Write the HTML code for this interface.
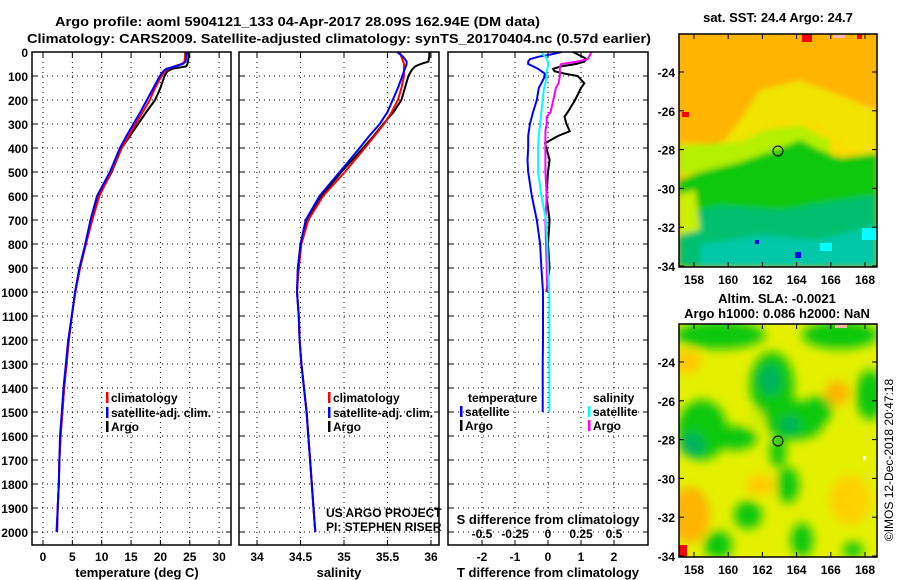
<!DOCTYPE html>
<html><head><meta charset="utf-8"><style>
html,body{margin:0;padding:0;background:#fff;}
svg{display:block;font-family:"Liberation Sans",Arial,sans-serif;}
.t{font-weight:bold;font-size:13px;}
.tk{font-weight:bold;font-size:12px;}
</style></head><body>
<svg id="fig" width="900" height="580" viewBox="0 0 900 580" xmlns="http://www.w3.org/2000/svg">
<defs>
<clipPath id="c1"><rect x="32" y="52" width="199" height="493"/></clipPath>
<clipPath id="c2"><rect x="239" y="52" width="200" height="493"/></clipPath>
<clipPath id="c3"><rect x="448" y="52" width="200" height="493"/></clipPath>
<clipPath id="cm1"><rect x="679" y="34" width="198" height="233"/></clipPath>
<clipPath id="cm2"><rect x="679" y="324" width="198" height="233"/></clipPath>
<filter id="bl" x="-50%" y="-50%" width="200%" height="200%"><feGaussianBlur stdDeviation="5"/></filter>
<filter id="bl2" x="-50%" y="-50%" width="200%" height="200%"><feGaussianBlur stdDeviation="3"/></filter>
</defs>
<text class="t" x="55" y="26" textLength="485" lengthAdjust="spacingAndGlyphs">Argo profile: aoml 5904121_133 04-Apr-2017 28.09S 162.94E (DM data)</text>
<text class="t" x="27" y="43" textLength="624" lengthAdjust="spacingAndGlyphs">Climatology: CARS2009. Satellite-adjusted climatology: synTS_20170404.nc (0.57d earlier)</text>
<g id="axes"></g>
<g id="maps">
 <g>
  <text class="t" x="778" y="22" text-anchor="middle">sat. SST: 24.4 Argo: 24.7</text>
  <g clip-path="url(#cm1)">
   <rect x="679" y="34" width="198" height="233" fill="#ffb400"/>
   <g filter="url(#bl2)">
   <path d="M679,150 L700,150 L725,140 L740,120 L760,90 L800,80 L840,95 L877,110 L877,160 L840,155 L800,160 L760,165 L720,172 L679,170 Z" fill="#f0e400"/>
   <path d="M679,140 L720,145 L750,135 L780,120 L820,125 L850,150 L877,150 L877,170 L679,180 Z" fill="#ffd800" opacity="0.6"/>
   <path d="M679,145 L740,142 L765,130 L800,125 L830,140 L830,160 L760,165 L679,175 Z" fill="#b4f000"/>
   <path d="M679,180 L700,172 L740,162 L775,150 L800,140 L820,150 L840,158 L877,153 L877,267 L679,267 Z" fill="#10c810"/>
   <path d="M679,215 L720,205 L780,210 L840,200 L877,195 L877,267 L679,267 Z" fill="#00c070"/>
   <path d="M700,245 L760,235 L820,240 L877,225 L877,267 L700,267 Z" fill="#00c8a8"/>
   <path d="M679,195 L695,190 L700,230 L679,235 Z" fill="#c8f000"/>
   </g>
   <rect x="862" y="228" width="15" height="12" fill="#00ffff"/>
   <rect x="820" y="243" width="12" height="8" fill="#00ffff"/>
   <rect x="682" y="112" width="7" height="5" fill="#ff0000"/>
   <rect x="802" y="34" width="10" height="8" fill="#ff0000"/>
   <rect x="857" y="34" width="5" height="5" fill="#ff0000"/>
   <rect x="795" y="252" width="6" height="6" fill="#0000ff"/>
   <rect x="755" y="240" width="4" height="4" fill="#0000ff"/>
   <rect x="833" y="34" width="12" height="4" fill="#f4b8a8"/>
  </g>
  <circle cx="778" cy="151" r="5" fill="none" stroke="#000" stroke-width="1"/>
  <rect x="679" y="34" width="198" height="233" fill="none" stroke="#000" stroke-width="1.5"/>
 </g>
 <g>
  <text class="t" x="777" y="303" text-anchor="middle">Altim. SLA: -0.0021</text>
  <text class="t" x="777" y="318" text-anchor="middle">Argo h1000: 0.086 h2000: NaN</text>
  <g clip-path="url(#cm2)">
   <rect x="679" y="324" width="198" height="233" fill="#e4f000"/>
   <g filter="url(#bl)">
    <ellipse cx="690" cy="515" rx="20" ry="28" fill="#ffb400"/>
    <ellipse cx="687" cy="362" rx="14" ry="12" fill="#ffc800"/>
    <ellipse cx="837" cy="393" rx="12" ry="12" fill="#ffb400"/>
    <ellipse cx="760" cy="485" rx="15" ry="10" fill="#ffcc00"/>
    <ellipse cx="850" cy="500" rx="20" ry="25" fill="#ffd000"/>
    <ellipse cx="720" cy="335" rx="45" ry="14" fill="#10c810"/>
    <ellipse cx="840" cy="335" rx="38" ry="14" fill="#10c810"/>
    <ellipse cx="772" cy="385" rx="22" ry="33" fill="#10c810"/>
    <ellipse cx="795" cy="420" rx="30" ry="20" fill="#10c810"/>
    <ellipse cx="818" cy="410" rx="14" ry="14" fill="#10c810"/>
    <ellipse cx="702" cy="430" rx="25" ry="30" fill="#10c810"/>
    <ellipse cx="735" cy="438" rx="22" ry="12" fill="#10c810"/>
    <ellipse cx="778" cy="452" rx="8" ry="16" fill="#10c810"/>
    <ellipse cx="788" cy="485" rx="11" ry="18" fill="#10c810"/>
    <ellipse cx="748" cy="515" rx="14" ry="14" fill="#10c810"/>
    <ellipse cx="718" cy="545" rx="14" ry="14" fill="#10c810"/>
    <ellipse cx="802" cy="540" rx="11" ry="17" fill="#10c810"/>
    <ellipse cx="870" cy="395" rx="14" ry="25" fill="#10c810"/>
    <ellipse cx="853" cy="550" rx="10" ry="8" fill="#10c810"/>
    <ellipse cx="770" cy="380" rx="10" ry="15" fill="#00b060"/>
    <ellipse cx="692" cy="445" rx="12" ry="12" fill="#00b060"/>
    <ellipse cx="790" cy="425" rx="10" ry="8" fill="#00b060"/>
    <ellipse cx="755" cy="418" rx="8" ry="8" fill="#d0f000"/>
   </g>
   <rect x="679" y="545" width="8" height="12" fill="#ff0000"/>
   <rect x="835" y="324" width="12" height="4" fill="#f4b8a8"/>
   <rect x="863" y="456" width="3" height="4" fill="#fff"/>
  </g>
  <circle cx="778" cy="441" r="5" fill="none" stroke="#000" stroke-width="1"/>
  <rect x="679" y="324" width="198" height="233" fill="none" stroke="#000" stroke-width="1.5"/>
 </g>
 <text x="893" y="460" font-size="12" text-anchor="middle" transform="rotate(-90 893 460)">©IMOS 12-Dec-2018 20:47:18</text>
</g>
</svg>
<script>
// ---- Profile data ----
const depthT = [0,20,40,50,60,70,80,100,150,200,250,300,350,400,500,600,700,800,900,1000,1100,1200,1300,1400,1500,1600,1700,1800,1900,2000];
const tempClim = [24.2,24.2,24.1,23.6,22.3,21.3,20.8,20.2,19.1,18.2,17.0,15.8,14.6,13.4,11.6,9.6,8.4,7.3,6.3,5.5,4.9,4.4,4.0,3.6,3.3,3.0,2.8,2.7,2.5,2.4];
const tempSat = [24.4,24.4,24.3,23.8,22.5,21.0,20.5,19.9,18.8,17.7,16.6,15.4,14.2,13.1,11.4,9.2,8.1,7.2,6.2,5.45,4.9,4.3,3.9,3.5,3.2,2.9,2.8,2.7,2.5,2.3];
const tempArgo = [24.7,24.8,24.7,24.6,24.4,22.0,21.2,20.7,20.0,19.1,17.6,16.2,14.8,13.4,11.7,9.5,8.3,7.3,6.3,5.5,4.9,4.4,4.0,3.6,3.3,3.0,2.8,2.7,2.5,2.4];
const salClim = [35.64,35.66,35.68,35.69,35.69,35.69,35.69,35.69,35.66,35.62,35.55,35.46,35.35,35.24,35.01,34.76,34.59,34.51,34.48,34.46,34.48,34.49,34.51,34.54,34.57,34.59,34.61,34.63,34.65,34.67];
const salSat = [35.61,35.68,35.72,35.72,35.71,35.70,35.69,35.67,35.62,35.56,35.50,35.41,35.29,35.18,34.95,34.72,34.56,34.50,34.47,34.46,34.48,34.49,34.51,34.54,34.57,34.59,34.61,34.63,34.65,34.67];
const salArgo = [35.98,35.98,35.97,35.88,35.82,35.79,35.77,35.74,35.70,35.66,35.57,35.45,35.34,35.22,34.97,34.74,34.57,34.50,34.47,34.46,34.48,34.49,34.51,34.54,34.57,34.59,34.61,34.63,34.65,34.67];
// ---- Difference data ----
const depthSat = [0,10,20,30,40,50,60,70,80,90,100,130,150,200,250,300,350,400,450,500,600,700,800,900,1000,1100,1200,1300,1400,1500];
const tDiffSat = [0.41,0.1,-0.3,-0.55,-0.6,-0.6,-0.45,-0.3,-0.2,-0.1,-0.09,-0.2,-0.28,-0.34,-0.45,-0.55,-0.6,-0.6,-0.62,-0.6,-0.49,-0.34,-0.24,-0.2,-0.15,-0.15,-0.15,-0.16,-0.16,-0.16];
const sDiffSat = [-0.05,-0.04,-0.02,-0.01,0.0,0.0,0.0,-0.005,-0.01,-0.01,-0.01,-0.02,-0.03,-0.04,-0.05,-0.06,-0.07,-0.075,-0.075,-0.075,-0.05,-0.015,-0.005,0.0,0.01,0.01,0.01,0.01,0.01,0.01];
const depthArgo = [0,10,20,30,40,50,60,70,80,90,100,130,150,200,250,270,300,330,350,380,400,450,500,600,700,800,900,1000];
const tDiffArgo = [0.76,0.9,1.05,1.17,1.1,0.85,0.4,0.15,0.2,0.5,0.9,1.1,1.0,0.82,0.6,0.5,0.56,0.66,0.3,-0.09,-0.05,0.05,0.0,-0.05,0.05,0.0,0.05,-0.05];
const sDiffArgo = [0.33,0.32,0.31,0.3,0.22,0.1,0.09,0.09,0.09,0.09,0.09,0.08,0.06,0.04,0.02,-0.01,-0.01,-0.02,-0.02,-0.02,-0.02,-0.02,-0.02,-0.01,-0.02,-0.015,-0.01,-0.005];
// ---- Tick labels ----
const depthTicks = [0,100,200,300,400,500,600,700,800,900,1000,1100,1200,1300,1400,1500,1600,1700,1800,1900,2000];
const tempTicks = [0,5,10,15,20,25,30];
const salTicks = [34,34.5,35,35.5,36];
const tDiffTicks = [-2,-1,0,1,2];
const sDiffTicks = ["-0.5","-0.25","0","0.25","0.5"];
const latTicks = [-24,-26,-28,-30,-32,-34];
const lonTicks = [158,160,162,164,166,168];

const NS='http://www.w3.org/2000/svg';
const axes=document.getElementById('axes');
const maps=document.getElementById('maps');
function mk(tag,attrs,parent){const e=document.createElementNS(NS,tag);for(const k in attrs)e.setAttribute(k,attrs[k]);(parent||axes).appendChild(e);return e;}
const yD=d=>52+d*0.24;
const xT=v=>43+v*5.87;
const xS=v=>257+(v-34)*87;
const xTd=v=>548+v*33;
const xSd=v=>548+v*132;

const panels=[{x:32,w:199,clip:'c1',name:'temperature-panel'},{x:239,w:200,clip:'c2',name:'salinity-panel'},{x:448,w:200,clip:'c3',name:'difference-panel'}];
const pg=[];
panels.forEach((p,i)=>{
  const g=mk('g',{});
  
  
  pg.push(g);
  depthTicks.forEach(d=>{
    const y=yD(d);
    if(d>0) mk('line',{x1:p.x,x2:p.x+p.w,y1:y,y2:y,stroke:'#000','stroke-width':1,'stroke-dasharray':'1,4'},g);
    mk('line',{x1:p.x,x2:p.x+5,y1:y,y2:y,stroke:'#000'},g);
    mk('line',{x1:p.x+p.w-5,x2:p.x+p.w,y1:y,y2:y,stroke:'#000'},g);
    if(i===0){const t=mk('text',{x:28,y:y+5,'text-anchor':'end',class:'tk'},g);t.textContent=d;
      
      }
  });
});
function xgrid(g,ticks,fx,labels,ly){
  ticks.forEach((v,k)=>{const x=fx(v);
    mk('line',{x1:x,x2:x,y1:52,y2:545,stroke:'#000','stroke-dasharray':'1,4'},g);
    mk('line',{x1:x,x2:x,y1:52,y2:57,stroke:'#000'},g);
    mk('line',{x1:x,x2:x,y1:540,y2:545,stroke:'#000'},g);
    const t=mk('text',{x:x,y:ly,'text-anchor':'middle',class:'tk'},g);t.textContent=labels[k];
    
    
  });
}
xgrid(pg[0],tempTicks,xT,tempTicks,561);
xgrid(pg[1],salTicks,xS,salTicks,561);
xgrid(pg[2],tDiffTicks,xTd,tDiffTicks,561);
sDiffTicks.forEach(s=>{const t=mk('text',{x:xSd(parseFloat(s)),y:538,'text-anchor':'middle',class:'tk'},pg[2]);t.textContent=s;
  
  });

function line(g,clip,ds,vs,fx,color,name){
  const pts=ds.map((d,k)=>fx(vs[k]).toFixed(1)+','+yD(d).toFixed(1)).join(' ');
  const e=mk('polyline',{points:pts,fill:'none',stroke:color,'stroke-width':2,'clip-path':'url(#'+clip+')'},g);
  
  
}
line(pg[0],'c1',depthT,tempArgo,xT,'#000','temp-argo-line');
line(pg[0],'c1',depthT,tempClim,xT,'#ff0000','temp-climatology-line');
line(pg[0],'c1',depthT,tempSat,xT,'#0000ff','temp-satellite-line');
line(pg[1],'c2',depthT,salArgo,xS,'#000','sal-argo-line');
line(pg[1],'c2',depthT,salClim,xS,'#ff0000','sal-climatology-line');
line(pg[1],'c2',depthT,salSat,xS,'#0000ff','sal-satellite-line');
line(pg[2],'c3',depthArgo,tDiffArgo,xTd,'#000','tdiff-argo-line');
line(pg[2],'c3',depthArgo,sDiffArgo,xSd,'#ff00ff','sdiff-argo-line');
line(pg[2],'c3',depthSat,tDiffSat,xTd,'#0000ff','tdiff-satellite-line');
line(pg[2],'c3',depthSat,sDiffSat,xSd,'#00ffff','sdiff-satellite-line');
panels.forEach((p,i)=>mk('rect',{x:p.x,y:52,width:p.w,height:493,fill:'none',stroke:'#000','stroke-width':1.5},pg[i]));

function txt(x,y,s,name,cls,anchor,g){const t=mk('text',{x:x,y:y,class:cls||'tk','text-anchor':anchor||'start'},g||axes);t.textContent=s;
  
  return t;}
txt(137,577,'temperature (deg C)','x-axis-title-temperature','t','middle');
txt(339,577,'salinity','x-axis-title-salinity','t','middle');
txt(548,577,'T difference from climatology','x-axis-title-tdiff','t','middle');
txt(548,524,'S difference from climatology','s-diff-axis-title','t','middle');
function leg(x,y,color,label,name,g){mk('rect',{x:x,y:y-10,width:2.5,height:11,fill:color},g);txt(x+5,y,label,name,'tk','start',g);}
leg(106,402,'#ff0000','climatology','legend-entry-climatology',pg[0]);
leg(106,417,'#0000ff','satellite-adj. clim.','legend-entry-satellite',pg[0]);
leg(106,431,'#000','Argo','legend-entry-argo',pg[0]);
leg(328,402,'#ff0000','climatology','legend-entry-climatology',pg[1]);
leg(328,417,'#0000ff','satellite-adj. clim.','legend-entry-satellite',pg[1]);
leg(328,431,'#000','Argo','legend-entry-argo',pg[1]);
txt(468,402,'temperature','legend-title-temperature','tk','start',pg[2]);
leg(460,416,'#0000ff','satellite','legend-entry-t-satellite',pg[2]);
leg(460,430,'#000','Argo','legend-entry-t-argo',pg[2]);
txt(593,402,'salinity','legend-title-salinity','tk','start',pg[2]);
leg(588,416,'#00ffff','satellite','legend-entry-s-satellite',pg[2]);
leg(588,430,'#ff00ff','Argo','legend-entry-s-argo',pg[2]);
const c1=txt(326,517,'US ARGO PROJECT','project-credit','','start',pg[1]);c1.setAttribute('font-size','12');
const c2=txt(326,531,'PI: STEPHEN RISER','pi-credit','','start',pg[1]);c2.setAttribute('font-size','12');

// map axes
[{y0:34,lat0:72,name:'sst'},{y0:324,lat0:362,name:'sla'}].forEach(m=>{
  latTicks.forEach((lt,k)=>{const y=m.lat0+k*38.8;
    mk('line',{x1:679,x2:684,y1:y,y2:y,stroke:'#000'},maps);
    mk('line',{x1:872,x2:877,y1:y,y2:y,stroke:'#000'},maps);
    txt(675,y+5,lt,m.name+'-lat-label','tk','end',maps);
  });
  lonTicks.forEach(ln=>{const x=694+(ln-158)*17.1;
    mk('line',{x1:x,x2:x,y1:m.y0,y2:m.y0+5,stroke:'#000'},maps);
    mk('line',{x1:x,x2:x,y1:m.y0+228,y2:m.y0+233,stroke:'#000'},maps);
    txt(x,m.y0+250,ln,m.name+'-lon-label','tk','middle',maps);
  });
});
</script>
</body></html>
